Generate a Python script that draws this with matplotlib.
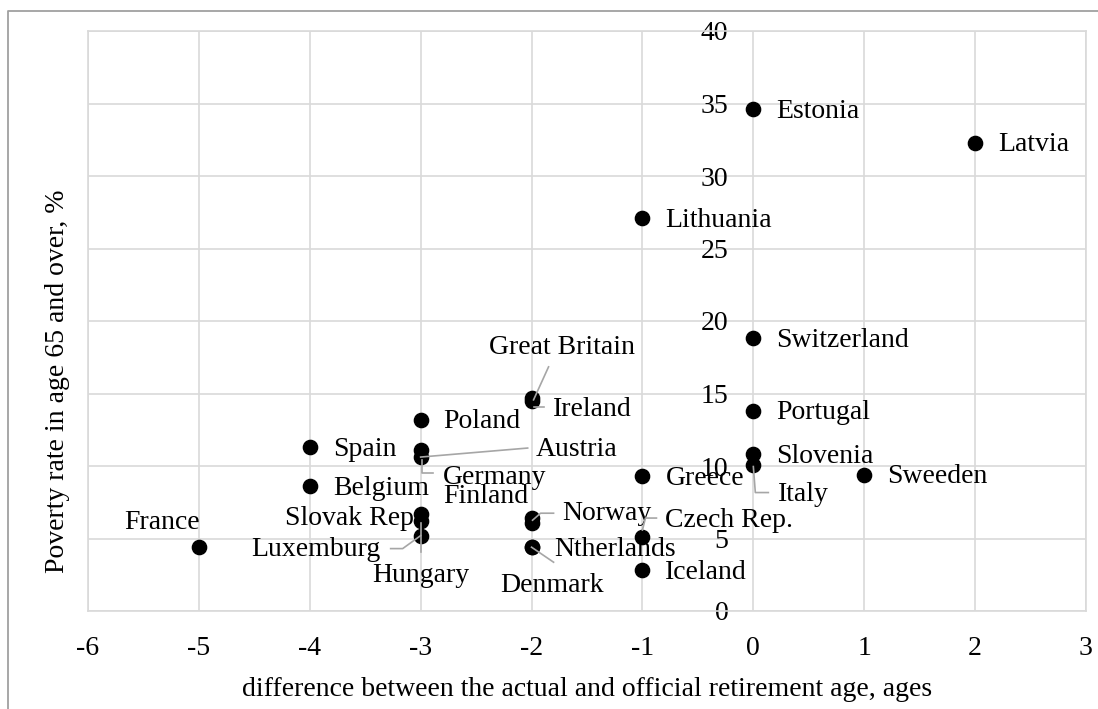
import matplotlib
matplotlib.use("Agg")
from matplotlib import pyplot as plt
from matplotlib.lines import Line2D
from matplotlib.transforms import IdentityTransform

countries = ["France", "Luxemburg", "Hungary", "Slovak Rep", "Spain", "Belgium",
             "Poland", "Austria", "Germany", "Great Britain", "Ireland", "Norway",
             "Finland", "Ntherlands", "Denmark", "Greece", "Czech Rep.", "Iceland",
             "Lithuania", "Estonia", "Switzerland", "Portugal", "Slovenia", "Italy",
             "Sweeden", "Latvia"]
age_gap = [-5, -3, -3, -3, -4, -4, -3, -3, -3, -2, -2, -2, -2, -2, -2,
           -1, -1, -1, -1, 0, 0, 0, 0, 0, 1, 2]
poverty = [4.4, 5.2, 6.2, 6.7, 11.3, 8.6, 13.2, 11.1, 10.6, 14.7, 14.5, 6.4,
           6.1, 4.4, 4.4, 9.3, 5.1, 2.8, 27.1, 34.6, 18.8, 13.8, 10.8, 10.1,
           9.4, 32.3]

x_ticks = list(range(-6, 4))
y_ticks = list(range(0, 41, 5))

# label placement in pixels from the point (dx right, dy down), alignment
DEFAULT_LABEL = (23, 2, "left")
label_pos = {
    "France": (-37, -25, "center"),
    "Luxemburg": (-40, 14, "right"),
    "Hungary": (0, 54, "center"),
    "Slovak Rep": (-7, 5, "right"),
    "Austria": (115, -1, "left"),
    "Germany": (22, 20, "left"),
    "Great Britain": (30, -50, "center"),
    "Ireland": (21, 9, "left"),
    "Norway": (31, -5, "left"),
    "Finland": (-3, -26, "right"),
    "Denmark": (-31, 38, "left"),
    "Czech Rep.": (23, -17, "left"),
    "Italy": (25, 30, "left"),
}
# leader lines, pixel offsets from the point (dy down)
leaders = {
    "Luxemburg": [(0, 0), (-18, 13), (-30, 13)],
    "Hungary": [(0, 2), (0, 31)],
    "Austria": [(0, 7), (107, -2)],
    "Germany": [(1, 3), (1, 16), (12, 16)],
    "Great Britain": [(2, 2), (17, -31)],
    "Ireland": [(2, 6), (12, 6)],
    "Norway": [(1, 2), (9, -5), (22, -5)],
    "Denmark": [(0, 0), (22, 15)],
    "Czech Rep.": [(0, -7), (3, -19), (14, -19)],
    "Italy": [(0, 2), (2, 28), (15, 28)],
}

plt.rcParams["font.family"] = ["Liberation Serif", "DejaVu Serif"]
plt.rcParams["axes.unicode_minus"] = False
grid_color = "#d9d9d9"

fig = plt.figure(figsize=(10.98, 7.09), dpi=100)
ax = fig.add_axes([88 / 1098, 1 - 611 / 709, 998 / 1098, 580 / 709])

# y axis crosses at x = 0, like the Excel original
ax.spines["left"].set_position(("data", 0))
ax.spines["left"].set_visible(False)
for side in ["top", "right", "bottom"]:
    ax.spines[side].set_color(grid_color)
    ax.spines[side].set_linewidth(1.2)

ax.set_xlim(-6, 3)
ax.set_ylim(0, 40)
ax.set_xticks(x_ticks)
ax.set_yticks(y_ticks)
ax.tick_params(length=0, labelsize=20)
ax.tick_params(axis="x", pad=18)
ax.tick_params(axis="y", pad=18)
ax.grid(True, color=grid_color, linewidth=1.2)
ax.set_axisbelow(True)
ax.plot([-6, -6], [0, 40], color=grid_color, linewidth=1.2, clip_on=False)

ax.scatter(age_gap, poverty, s=105, color="black", zorder=3)

for name, x, y in zip(countries, age_gap, poverty):
    dx, dy, ha = label_pos.get(name, DEFAULT_LABEL)
    ax.annotate(name, (x, y), xytext=(dx, -dy), textcoords="offset pixels",
                ha=ha, va="center", fontsize=20, zorder=5)

for name, path in leaders.items():
    i = countries.index(name)
    px, py = ax.transData.transform((age_gap[i], poverty[i]))
    xs = [px + d[0] for d in path]
    ys = [py - d[1] for d in path]
    fig.add_artist(Line2D(xs, ys, transform=IdentityTransform(),
                          color="#a6a6a6", linewidth=1.2, zorder=4))

fig.text(587 / 1098, 1 - 689 / 709, "difference between the actual and official retirement age, ages",
         ha="center", va="center", fontsize=20)
fig.text(58 / 1098, 1 - 381 / 709, "Poverty rate in age 65 and over, %",
         ha="center", va="center", rotation=90, fontsize=20)

# outer chart frame
fig.add_artist(Line2D([7.5, 7.5, 1098], [0, 709 - 10.5, 709 - 10.5],
                      transform=IdentityTransform(), color="#a0a0a0", linewidth=1.3))

fig.savefig("out.png", dpi=100)
